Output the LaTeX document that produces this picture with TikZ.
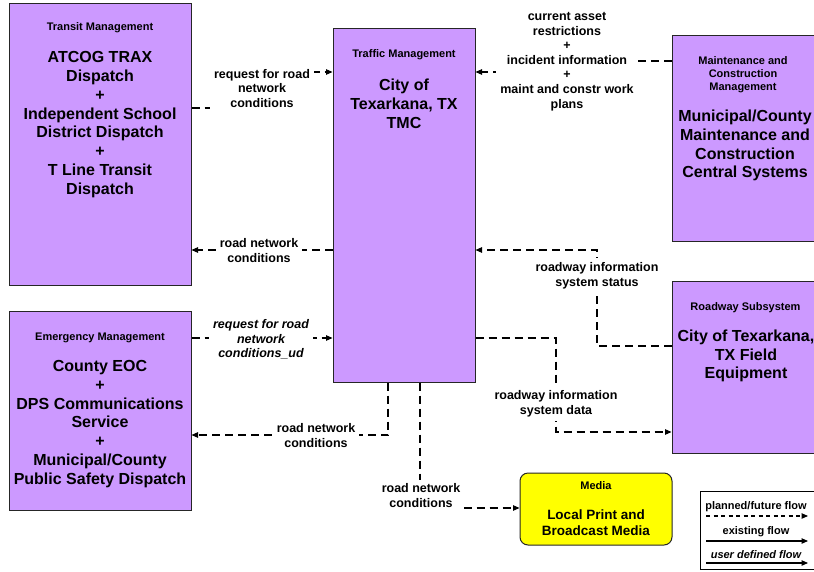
\documentclass[tikz,border=0pt]{standalone}
\usepackage{fontspec}
\setmainfont{Liberation Sans}
\usetikzlibrary{arrows.meta}
\definecolor{boxpurple}{HTML}{CC99FF}
\definecolor{mediayellow}{HTML}{FFFF00}
\begin{document}
\begin{tikzpicture}[x=1pt,y=-1pt,
  box/.style={draw=black!85,line width=1pt,fill=boxpurple,inner sep=0pt},
  ttl/.style={font=\fontsize{11}{13}\selectfont\bfseries,align=center,inner sep=0pt,yshift=-2pt},
  big/.style={font=\fontsize{16}{18.8}\selectfont\bfseries,align=center,inner sep=0pt,yshift=-2pt},
  lbl/.style={font=\fontsize{12.5}{14.6}\selectfont\bfseries,align=center,fill=white,inner sep=4pt,yshift=-1.5pt},
  flow/.style={dash pattern=on 8pt off 5pt,line width=1.1pt,-{Triangle[length=6.5pt,width=5.5pt]}},
  solidflow/.style={line width=1.1pt,-{Triangle[length=6.5pt,width=5.5pt]}},
]
\path[use as bounding box,clip] (0,0) rectangle (814,571);

% boxes
\node[box,minimum width=182pt,minimum height=282pt] (transit) at (100,144) {};
\node[box,minimum width=182pt,minimum height=199pt] (emerg) at (100,410.5) {};
\node[box,minimum width=142pt,minimum height=354pt] (traffic) at (404,205) {};
\node[box,minimum width=148pt,minimum height=206pt] (maint) at (746,138) {};
\node[box,minimum width=148pt,minimum height=172pt] (road) at (746,367) {};
\node[box,fill=mediayellow,rounded corners=8pt,minimum width=152pt,minimum height=72pt] (media) at (596,509) {};

% box texts
\node[ttl] (transitT) at (100,26) {Transit Management};
\node[big] (transitB) at (100,122.5) {ATCOG TRAX\\Dispatch\\+\\Independent School\\District Dispatch\\+\\T Line Transit\\Dispatch};
\node[ttl] (emergT) at (100,336) {Emergency Management};
\node[big] (emergB) at (100,422) {County EOC\\+\\DPS Communications\\Service\\+\\Municipal/County\\Public Safety Dispatch};
\node[ttl] (trafficT) at (404,53) {Traffic Management};
\node[big] (trafficB) at (404,102) {City of\\Texarkana, TX\\TMC};
\node[ttl] (maintT) at (743,73) {Maintenance and\\Construction\\Management};
\node[big] (maintB) at (745,143.5) {Municipal/County\\Maintenance and\\Construction\\Central Systems};
\node[ttl] (roadT) at (745.5,306) {Roadway Subsystem};
\node[big] (roadB) at (746,354) {City of Texarkana,\\TX Field\\Equipment};
\node[ttl] (mediaT) at (596,484) {Media};
\node[big,font=\fontsize{13.5}{16}\selectfont\bfseries] (mediaB) at (596,521) {Local Print and\\Broadcast Media};

% flows
\draw[flow] (transit.east |- 0,108) -| (262,90) |- (traffic.west |- 0,72);
\node[lbl] (l1) at (262,87) {request for road\\network\\conditions};

\draw[flow] (maint.west |- 0,61) -| (567,66) |- (traffic.east |- 0,72);
\node[lbl] (l2) at (567,60) {current asset\\restrictions\\+\\incident information\\+\\maint and constr work\\plans};

\draw[flow] (traffic.west |- 0,250) -- (transit.east |- 0,250);
\node[lbl] (l3) at (259,249) {road network\\conditions};

\draw[flow] (emerg.east |- 0,338) -- (traffic.west |- 0,338);
\node[lbl,font=\fontsize{12.5}{14.6}\selectfont\bfseries\itshape] (l4) at (261,338) {request for road\\network\\conditions\_ud};

\draw[flow] (traffic.south -| 388,0) |- (emerg.east |- 0,435);
\node[lbl] (l5) at (316,434) {road network\\conditions};

\draw[flow] (traffic.south -| 420,0) |- (media.west |- 0,508);
\node[lbl] (l6) at (421,494) {road network\\conditions};

\draw[flow] (road.west |- 0,346) -| (597,274) |- (traffic.east |- 0,250);
\node[lbl] (l7) at (597,274) {roadway information\\system status};

\draw[flow] (traffic.east |- 0,338) -| (556,402) |- (road.west |- 0,432);
\node[lbl] (l8) at (556,402) {roadway information\\system data};

% legend
\node[draw=black,line width=1pt,fill=white,minimum width=120pt,minimum height=78pt,inner sep=0pt] (legend) at (760,530) {};
\node[ttl] (lg1) at (756,505) {planned/future flow};
\coordinate (lg1a) at (706,516);
\coordinate (lg1b) at (808,516);
\draw[flow,dash pattern=on 4pt off 3.5pt] (lg1a) -- (lg1b);
\node[ttl] (lg2) at (756,530) {existing flow};
\coordinate (lg2a) at (706,541);
\coordinate (lg2b) at (808,541);
\draw[solidflow] (lg2a) -- (lg2b);
\node[ttl,font=\fontsize{11}{13}\selectfont\bfseries\itshape] (lg3) at (756,553) {user defined flow};
\coordinate (lg3a) at (706,563);
\coordinate (lg3b) at (808,563);
\draw[solidflow] (lg3a) -- (lg3b);
\end{tikzpicture}
\end{document}
